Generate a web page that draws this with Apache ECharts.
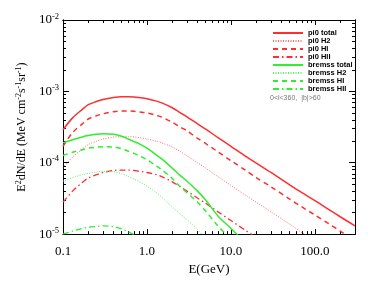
<!DOCTYPE html>
<html>
<head>
<meta charset="utf-8">
<script src="https://cdn.jsdelivr.net/npm/echarts@6/dist/echarts.min.js"></script>
<style>html,body{margin:0;padding:0;background:#fff;}#c{width:374px;height:281px;}</style>
</head>
<body>
<div id="c"></div>
<script>
// Energies (GeV)
const energies = [0.1, 0.13, 0.17, 0.2, 0.25, 0.3, 0.4, 0.5, 0.6, 0.7, 0.8, 1.0, 1.3, 1.5, 2, 2.5, 3, 4, 5, 7, 10, 15, 20, 30, 50, 70, 100, 150, 200, 300];

// E^2 dN/dE (MeV cm^-2 s^-1 sr^-1)
const pi0Total = [2.9e-4, 4.25e-4, 5.6e-4, 6.5e-4, 7.2e-4, 7.7e-4, 8.2e-4, 8.4e-4, 8.4e-4, 8.35e-4, 8.2e-4, 7.9e-4, 7.3e-4, 6.9e-4, 5.9e-4, 5.0e-4, 4.4e-4, 3.5e-4, 2.95e-4, 2.25e-4, 1.7e-4, 1.23e-4, 9.9e-5, 7.3e-5, 4.9e-5, 3.8e-5, 2.95e-5, 2.17e-5, 1.75e-5, 1.3e-5];
const pi0H2 = [8.6e-5, 1.2e-4, 1.55e-4, 1.8e-4, 2.0e-4, 2.15e-4, 2.28e-4, 2.32e-4, 2.32e-4, 2.3e-4, 2.25e-4, 2.15e-4, 2.0e-4, 1.9e-4, 1.66e-4, 1.43e-4, 1.25e-4, 1.0e-4, 8.4e-5, 6.4e-5, 4.8e-5, 3.5e-5, 2.8e-5, 2.05e-5, 1.38e-5, 1.05e-5, 8.2e-6, null, null, null];
const pi0HI = [1.7e-4, 2.65e-4, 3.5e-4, 4.1e-4, 4.55e-4, 4.85e-4, 5.2e-4, 5.3e-4, 5.3e-4, 5.25e-4, 5.15e-4, 5.0e-4, 4.6e-4, 4.35e-4, 3.7e-4, 3.15e-4, 2.8e-4, 2.2e-4, 1.86e-4, 1.42e-4, 1.07e-4, 7.8e-5, 6.2e-5, 4.6e-5, 3.1e-5, 2.4e-5, 1.85e-5, 1.37e-5, 1.1e-5, 8.0e-6];
const pi0HII = [2.8e-5, 4.0e-5, 5.3e-5, 6.1e-5, 6.8e-5, 7.3e-5, 7.8e-5, 7.9e-5, 7.9e-5, 7.8e-5, 7.6e-5, 7.3e-5, 6.8e-5, 6.4e-5, 5.4e-5, 4.6e-5, 4.0e-5, 3.2e-5, 2.7e-5, 2.05e-5, 1.55e-5, 1.12e-5, 9.0e-6, null, null, null, null, null, null, null];
const bremssTotal = [1.9e-4, 2.1e-4, 2.3e-4, 2.4e-4, 2.5e-4, 2.55e-4, 2.5e-4, 2.35e-4, 2.15e-4, 1.98e-4, 1.85e-4, 1.6e-4, 1.28e-4, 1.13e-4, 8.4e-5, 6.6e-5, 5.5e-5, 4.0e-5, 3.0e-5, 1.8e-5, 1.2e-5, 7.5e-6, null, null, null, null, null, null, null, null];
const bremssH2 = [5.5e-5, 6.2e-5, 6.8e-5, 7.1e-5, 7.4e-5, 7.6e-5, 7.5e-5, 7.0e-5, 6.4e-5, 5.9e-5, 5.5e-5, 4.7e-5, 3.8e-5, 3.3e-5, 2.4e-5, 1.9e-5, 1.6e-5, 1.15e-5, 8.8e-6, null, null, null, null, null, null, null, null, null, null, null];
const bremssHI = [1.26e-4, 1.4e-4, 1.52e-4, 1.6e-4, 1.65e-4, 1.68e-4, 1.66e-4, 1.57e-4, 1.45e-4, 1.35e-4, 1.26e-4, 1.1e-4, 9.0e-5, 8.0e-5, 6.0e-5, 4.6e-5, 3.8e-5, 2.8e-5, 2.1e-5, 1.3e-5, 8.5e-6, null, null, null, null, null, null, null, null, null];
const bremssHII = [1.0e-5, 1.1e-5, 1.2e-5, 1.25e-5, 1.28e-5, 1.3e-5, 1.27e-5, 1.18e-5, 1.08e-5, 9.8e-6, 9.0e-6, null, null, null, null, null, null, null, null, null, null, null, null, null, null, null, null, null, null, null];

const xMajor = [0.1, 1, 10, 100];
const xMinor = [0.2, 0.3, 0.4, 0.5, 0.6, 0.7, 0.8, 0.9, 2, 3, 4, 5, 6, 7, 8, 9, 20, 30, 40, 50, 60, 70, 80, 90, 200, 300];
const yMajor = [1e-5, 1e-4, 1e-3, 1e-2];
const yMinor = [];
[1e-5, 1e-4, 1e-3].forEach(d => { for (let k = 2; k <= 9; k++) yMinor.push(k * d); });

const RED = '#ff2e2e';
const RED_LIGHT = '#ff6a6a';
const GREEN = '#2eee2e';
const GREEN_LIGHT = '#5cf05c';

function pairs(vals) { return energies.map((e, i) => [e, vals[i]]); }

const serif = 'Liberation Serif';
const supRich = {
  b: { fontFamily: serif, fontSize: 13, color: '#000' },
  sup: { fontFamily: serif, fontSize: 8.5, color: '#000', padding: [0, 0, 7, 0] }
};
const titleRich = {
  b: { fontFamily: serif, fontSize: 12, color: '#000' },
  sup: { fontFamily: serif, fontSize: 8, color: '#000', padding: [0, 0, 6, 0] }
};

function xAx(pos, vals, len, labels, extra) {
  return Object.assign({
    type: 'log', logBase: 10, min: 0.1, max: 300, position: pos, gridIndex: 0,
    axisLine: { show: true, lineStyle: { color: '#000', width: 1 } },
    axisTick: { show: true, inside: true, length: len, customValues: vals, lineStyle: { color: '#000', width: 1 } },
    axisLabel: labels ? { show: true, customValues: xMajor, formatter: v => Number(v).toFixed(1), fontFamily: serif, fontSize: 13, color: '#000', margin: 11 } : { show: false },
    splitLine: { show: false }, minorTick: { show: false }
  }, extra || {});
}
function yAx(pos, vals, len, labels, extra) {
  return Object.assign({
    type: 'log', logBase: 10, min: 1e-5, max: 1e-2, position: pos, gridIndex: 0,
    axisLine: { show: true, lineStyle: { color: '#000', width: 1 } },
    axisTick: { show: true, inside: true, length: len, customValues: vals, lineStyle: { color: '#000', width: 1 } },
    axisLabel: labels ? { show: true, customValues: yMajor, margin: 4,
      formatter: v => '{b|10}{sup|' + Math.round(Math.log10(v)) + '}', rich: supRich } : { show: false },
    splitLine: { show: false }, minorTick: { show: false }
  }, extra || {});
}

const seriesDefs = [
  { name: 'pi0 total', data: pi0Total, color: RED, type: 'solid', width: 1.5 },
  { name: 'pi0 H2', data: pi0H2, color: RED_LIGHT, type: [1, 1.5], width: 1 },
  { name: 'pi0 HI', data: pi0HI, color: RED, type: [5, 4], width: 1.5 },
  { name: 'pi0 HII', data: pi0HII, color: RED, type: [6, 3, 1.5, 3], width: 1.3 },
  { name: 'bremss total', data: bremssTotal, color: GREEN, type: 'solid', width: 1.5 },
  { name: 'bremss H2', data: bremssH2, color: GREEN_LIGHT, type: [1, 1.5], width: 1 },
  { name: 'bremss HI', data: bremssHI, color: GREEN, type: [5, 4], width: 1.5 },
  { name: 'bremss HII', data: bremssHII, color: GREEN, type: [6, 3, 1.5, 3], width: 1.3 }
];

const chart = echarts.init(document.getElementById('c'), null, { renderer: 'canvas' });
chart.setOption({
  animation: false,
  backgroundColor: '#fff',
  title: {
    text: '0<l<360,  |b|>60', left: 270, top: 95, padding: 0,
    textStyle: { fontFamily: 'Liberation Sans', fontSize: 7, fontWeight: 'normal', color: '#777' }
  },
  grid: { left: 63, right: 19, top: 20, bottom: 40, containLabel: false },
  legend: {
    orient: 'vertical', left: 272, top: 29, itemWidth: 30, itemHeight: 6, itemGap: 0,
    padding: 0,
    itemStyle: { opacity: 0 },
    textStyle: { fontFamily: 'Liberation Sans', fontSize: 7.5, fontWeight: 'bold', color: '#000', lineHeight: 7.8, height: 7.8 },
    data: seriesDefs.map(s => s.name)
  },
  xAxis: [
    xAx('bottom', xMajor, 5, true, {
      name: 'E(GeV)', nameLocation: 'middle', nameGap: 25,
      nameTextStyle: { fontFamily: serif, fontSize: 13, color: '#000' }
    }),
    xAx('bottom', xMinor, 3, false),
    xAx('top', xMajor, 5, false),
    xAx('top', xMinor, 3, false)
  ],
  yAxis: [
    yAx('left', yMajor, 6, true, {
      name: '{b|E}{sup|2}{b|dN/dE (MeV cm}{sup|-2}{b|s}{sup|-1}{b|sr}{sup|-1}{b|)}',
      nameLocation: 'middle', nameGap: 21, nameRotate: 90,
      nameTextStyle: { rich: titleRich }
    }),
    yAx('left', yMinor, 3, false),
    yAx('right', yMajor, 6, false),
    yAx('right', yMinor, 3, false)
  ],
  series: seriesDefs.map(s => ({
    name: s.name, type: 'line', xAxisIndex: 0, yAxisIndex: 0,
    data: pairs(s.data), showSymbol: false, symbol: 'none', smooth: 0.3,
    connectNulls: false, clip: true,
    itemStyle: { color: s.color },
    lineStyle: { color: s.color, width: s.width, type: s.type }
  }))
});
</script>
</body>
</html>
